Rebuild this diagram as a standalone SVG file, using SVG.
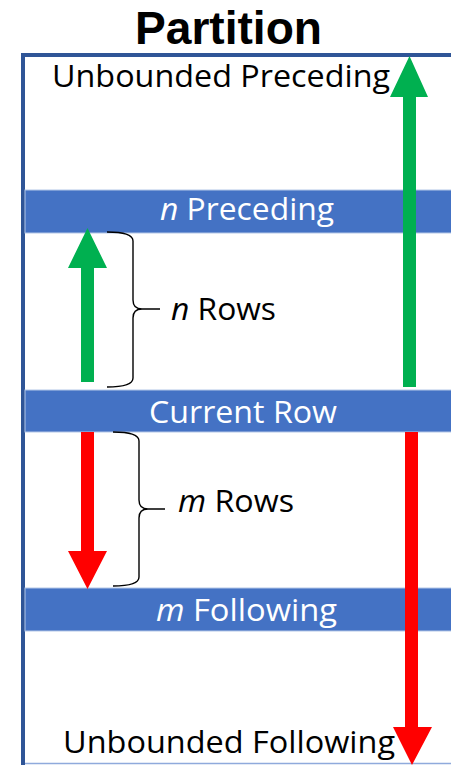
<svg xmlns="http://www.w3.org/2000/svg" width="451" height="765" viewBox="0 0 451 765">
  <style>
    .lbl{font-family:"Open Sans","Noto Sans",sans-serif;font-size:31px;fill:#000}
    .inv{fill:#fff}
    .title{font-family:"Liberation Sans",Arial,sans-serif;font-size:47px;font-weight:bold;fill:#000}
    .band{fill:#4472C4;stroke:#B4C7E7;stroke-width:1}
    .brace{fill:none;stroke:#000;stroke-width:1.4}
    .up{fill:#00B050}
    .down{fill:#FF0000}
  </style>

  <rect width="451" height="765" fill="#fff"/>

  <!-- title -->
  <text id="title" class="title" x="135" y="44" textLength="187" lengthAdjust="spacingAndGlyphs">Partition</text>

  <!-- partition frame -->
  <g id="frame">
    <path d="M23,765 V55 H451" fill="none" stroke="#2F5597" stroke-width="4"/>
    <line x1="25" y1="763.5" x2="451" y2="763.5" stroke="#8FAADC" stroke-width="1.5"/>
  </g>

  <!-- row bands -->
  <g id="n-preceding">
    <rect class="band" x="25" y="190" width="427" height="43"/>
    <text class="lbl inv" x="160" y="220" textLength="174" lengthAdjust="spacingAndGlyphs"><tspan font-style="italic">n</tspan> Preceding</text>
  </g>
  <g id="current-row">
    <rect class="band" x="25" y="390" width="427" height="42"/>
    <text class="lbl inv" x="149" y="423" textLength="188" lengthAdjust="spacingAndGlyphs">Current Row</text>
  </g>
  <g id="m-following">
    <rect class="band" x="25" y="588" width="427" height="43"/>
    <text class="lbl inv" x="156" y="621" textLength="181" lengthAdjust="spacingAndGlyphs"><tspan font-style="italic">m</tspan> Following</text>
  </g>

  <!-- boundary labels -->
  <g id="unbounded-preceding">
    <text class="lbl" x="52" y="87" textLength="338" lengthAdjust="spacingAndGlyphs">Unbounded Preceding</text>
  </g>
  <g id="unbounded-following">
    <text class="lbl" x="63" y="753" textLength="332" lengthAdjust="spacingAndGlyphs">Unbounded Following</text>
  </g>

  <!-- row count labels -->
  <g id="n-rows">
    <text class="lbl" x="171" y="320" textLength="105" lengthAdjust="spacingAndGlyphs"><tspan font-style="italic">n</tspan> Rows</text>
  </g>
  <g id="m-rows">
    <text class="lbl" x="178" y="512" textLength="116" lengthAdjust="spacingAndGlyphs"><tspan font-style="italic">m</tspan> Rows</text>
  </g>

  <!-- arrows and braces -->
  <g id="connectors">
    <polygon class="up" points="81,382 94,382 94,268 107,268 87.5,228 68,268 81,268"/>
    <polygon class="up" points="403,387 416,387 416,97 428,97 409.5,56 390,97 403,97"/>
    <polygon class="down" points="81,432 94,432 94,551 107,551 87.5,589 68,551 81,551"/>
    <polygon class="down" points="405,432 418,432 418,727 432,727 412,765 393,727 405,727"/>
    <path class="brace" d="M107,232 Q133,232 133,241 V300 Q133,309 142,309 H160 M142,309 Q133,309 133,318 V378 Q133,387 107,387"/>
    <path class="brace" d="M113,432 Q139,432 139,441 V500 Q139,509 148,509 H165 M148,509 Q139,509 139,518 V577 Q139,586 113,586"/>
  </g>
</svg>
